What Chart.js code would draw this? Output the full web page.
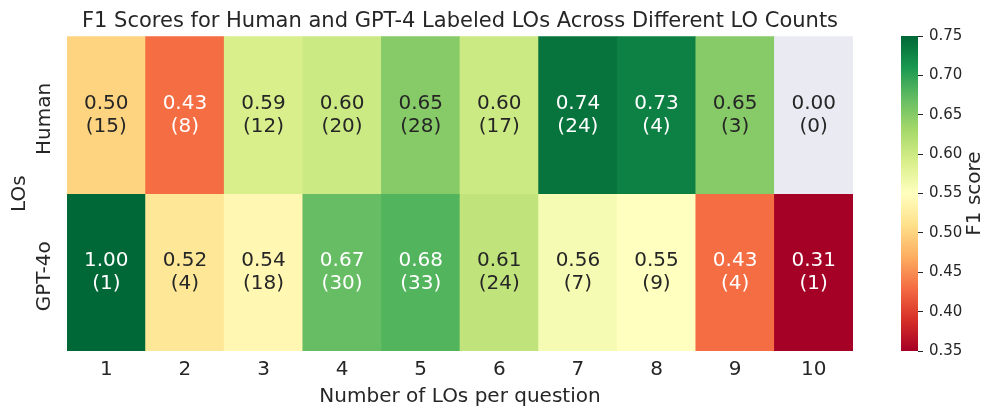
<!DOCTYPE html>
<html>
<head>
<meta charset="utf-8">
<script src="https://cdn.jsdelivr.net/npm/chart.js@4.4.1/dist/chart.umd.min.js"></script>
<style>
  html, body { margin: 0; padding: 0; background: #ffffff; }
  #wrap { position: relative; width: 985px; height: 406px; }
  #heat { position: absolute; left: 0; top: 0; }
  #cbar { position: absolute; left: 880px; top: 0; }
</style>
</head>
<body>
<div id="wrap">
  <canvas id="heat" width="920" height="406"></canvas>
  <canvas id="cbar" width="105" height="406"></canvas>
</div>
<script>
// data
const loCounts = ['1', '2', '3', '4', '5', '6', '7', '8', '9', '10'];
const rowLabels = ['Human', 'GPT-4o'];
const humanF1 = [0.50, 0.43, 0.59, 0.60, 0.65, 0.60, 0.74, 0.73, 0.65, 0.00];
const humanN = [15, 8, 12, 20, 28, 17, 24, 4, 3, 0];
const gptF1 = [1.00, 0.52, 0.54, 0.67, 0.68, 0.61, 0.56, 0.55, 0.43, 0.31];
const gptN = [1, 4, 18, 30, 33, 24, 7, 9, 4, 1];
const cbTicks = [0.35, 0.40, 0.45, 0.50, 0.55, 0.60, 0.65, 0.70, 0.75];
const vmin = 0.35, vmax = 0.75;

const FONT = '"DejaVu Sans", sans-serif';
const TEXT_DARK = '#262626';
const MASKED = '#eaeaf2';

// RdYlGn colormap stops
const RDYLGN = ['#a50026', '#d73027', '#f46d43', '#fdae61', '#fee08b', '#ffffbf',
                '#d9ef8b', '#a6d96a', '#66bd63', '#1a9850', '#006837'];

function hexToRgb(h) {
    return [parseInt(h.substr(1, 2), 16), parseInt(h.substr(3, 2), 16), parseInt(h.substr(5, 2), 16)];
}

function cmap(v) {
    let t = (v - vmin) / (vmax - vmin);
    t = Math.max(0, Math.min(1, t));
    const p = t * (RDYLGN.length - 1);
    const i = Math.min(RDYLGN.length - 2, Math.floor(p));
    const f = p - i;
    const a = hexToRgb(RDYLGN[i]), b = hexToRgb(RDYLGN[i + 1]);
    const c = a.map((x, k) => Math.round(x + (b[k] - x) * f));
    return 'rgb(' + c.join(',') + ')';
}

function cellColor(f1, n) {
    return n === 0 ? MASKED : cmap(f1);
}

// same rule seaborn uses to pick annotation colour
function textColor(col) {
    let rgb;
    if (col.startsWith('#')) rgb = hexToRgb(col);
    else rgb = col.match(/\d+/g).map(Number);
    const lin = rgb.map(c => {
        c = c / 255;
        return c <= 0.03928 ? c / 12.92 : Math.pow((c + 0.055) / 1.055, 2.4);
    });
    const lum = 0.2126 * lin[0] + 0.7152 * lin[1] + 0.0722 * lin[2];
    return lum > 0.408 ? TEXT_DARK : '#ffffff';
}

const humanColors = humanF1.map((v, i) => cellColor(v, humanN[i]));
const gptColors = gptF1.map((v, i) => cellColor(v, gptN[i]));

// cell annotations + row labels
const annotatePlugin = {
    id: 'annotate',
    afterDatasetsDraw(chart) {
        const ctx = chart.ctx;
        ctx.save();
        ctx.font = '20px ' + FONT;
        ctx.textAlign = 'center';
        ctx.textBaseline = 'middle';
        chart.data.datasets.forEach((ds, di) => {
            chart.getDatasetMeta(di).data.forEach((bar, i) => {
                const cy = (bar.y + bar.base) / 2;
                ctx.fillStyle = textColor(ds.backgroundColor[i]);
                ctx.fillText(ds.f1[i].toFixed(2), bar.x, cy - 11.5);
                ctx.fillText('(' + ds.counts[i] + ')', bar.x, cy + 11.5);
            });
        });
        // rotated row labels
        const y = chart.scales.y;
        ctx.fillStyle = TEXT_DARK;
        rowLabels.forEach((lab, r) => {
            const cy = y.getPixelForValue(rowLabels.length - r - 0.5) + 4;
            ctx.save();
            ctx.translate(45, cy);
            ctx.rotate(-Math.PI / 2);
            ctx.fillText(lab, 0, 0);
            ctx.restore();
        });
        ctx.restore();
    }
};

new Chart(document.getElementById('heat'), {
    type: 'bar',
    data: {
        labels: loCounts,
        datasets: [
            {
                label: rowLabels[0],
                data: loCounts.map(() => [1, 2]),
                f1: humanF1,
                counts: humanN,
                backgroundColor: humanColors,
                borderWidth: 0,
                grouped: false,
                barPercentage: 1,
                categoryPercentage: 1
            },
            {
                label: rowLabels[1],
                data: loCounts.map(() => [0, 1]),
                f1: gptF1,
                counts: gptN,
                backgroundColor: gptColors,
                borderWidth: 0,
                grouped: false,
                barPercentage: 1,
                categoryPercentage: 1
            }
        ]
    },
    options: {
        responsive: false,
        animation: false,
        devicePixelRatio: 1,
        layout: { padding: 0 },
        plugins: {
            legend: { display: false },
            tooltip: { enabled: false },
            title: {
                display: true,
                text: 'F1 Scores for Human and GPT-4 Labeled LOs Across Different LO Counts',
                color: TEXT_DARK,
                font: { family: FONT, size: 21, weight: 'normal', lineHeight: 1.2 },
                padding: { top: 9, bottom: 2 }
            }
        },
        scales: {
            x: {
                grid: { display: false, drawTicks: false },
                border: { display: false },
                ticks: { color: TEXT_DARK, font: { family: FONT, size: 20 }, padding: 7 },
                title: {
                    display: true,
                    text: 'Number of LOs per question',
                    color: TEXT_DARK,
                    font: { family: FONT, size: 20, lineHeight: 0.9 },
                    padding: { top: 0, bottom: 0 }
                },
                afterFit: function(scale) { scale.height = 55; }
            },
            y: {
                min: 0,
                max: 2,
                grid: { display: false, drawTicks: false },
                border: { display: false },
                ticks: { display: false },
                title: {
                    display: true,
                    text: 'LOs',
                    color: TEXT_DARK,
                    font: { family: FONT, size: 20 },
                    padding: { top: 8, bottom: 0 }
                },
                afterFit: function(scale) { scale.width = 67; }
            },
            yR: {
                position: 'right',
                grid: { display: false, drawTicks: false },
                border: { display: false },
                ticks: { display: false },
                afterFit: function(scale) { scale.width = 67; }
            }
        }
    },
    plugins: [annotatePlugin]
});

// colour bar
const cbLabelPlugin = {
    id: 'cbLabel',
    afterDraw(chart) {
        const ctx = chart.ctx;
        const a = chart.chartArea;
        ctx.save();
        ctx.font = '20px ' + FONT;
        ctx.fillStyle = TEXT_DARK;
        ctx.textAlign = 'center';
        ctx.textBaseline = 'middle';
        ctx.translate(95, (a.top + a.bottom) / 2);
        ctx.rotate(-Math.PI / 2);
        ctx.fillText('F1 score', 0, 0);
        ctx.restore();
    }
};

new Chart(document.getElementById('cbar'), {
    type: 'bar',
    data: {
        labels: ['cb'],
        datasets: [{
            data: [[vmin, vmax]],
            borderWidth: 0,
            barPercentage: 1,
            categoryPercentage: 1,
            backgroundColor: function(context) {
                const a = context.chart.chartArea;
                if (!a) return null;
                const g = context.chart.ctx.createLinearGradient(0, a.bottom, 0, a.top);
                RDYLGN.forEach((c, i) => g.addColorStop(i / (RDYLGN.length - 1), c));
                return g;
            }
        }]
    },
    options: {
        responsive: false,
        animation: false,
        devicePixelRatio: 1,
        layout: { padding: { top: 36, bottom: 55, left: 21, right: 0 } },
        plugins: {
            legend: { display: false },
            tooltip: { enabled: false }
        },
        scales: {
            x: { display: false },
            y: {
                position: 'right',
                min: vmin,
                max: vmax,
                afterBuildTicks: function(scale) {
                    scale.ticks = cbTicks.map(v => ({ value: v }));
                },
                grid: { drawOnChartArea: false, drawTicks: true, tickLength: 5, color: TEXT_DARK },
                border: { display: false },
                ticks: {
                    color: TEXT_DARK,
                    font: { family: FONT, size: 15 },
                    padding: 6,
                    callback: function(v) { return Number(v).toFixed(2); }
                },
                afterFit: function(scale) { scale.width = 67; }
            }
        }
    },
    plugins: [cbLabelPlugin]
});
</script>
</body>
</html>
